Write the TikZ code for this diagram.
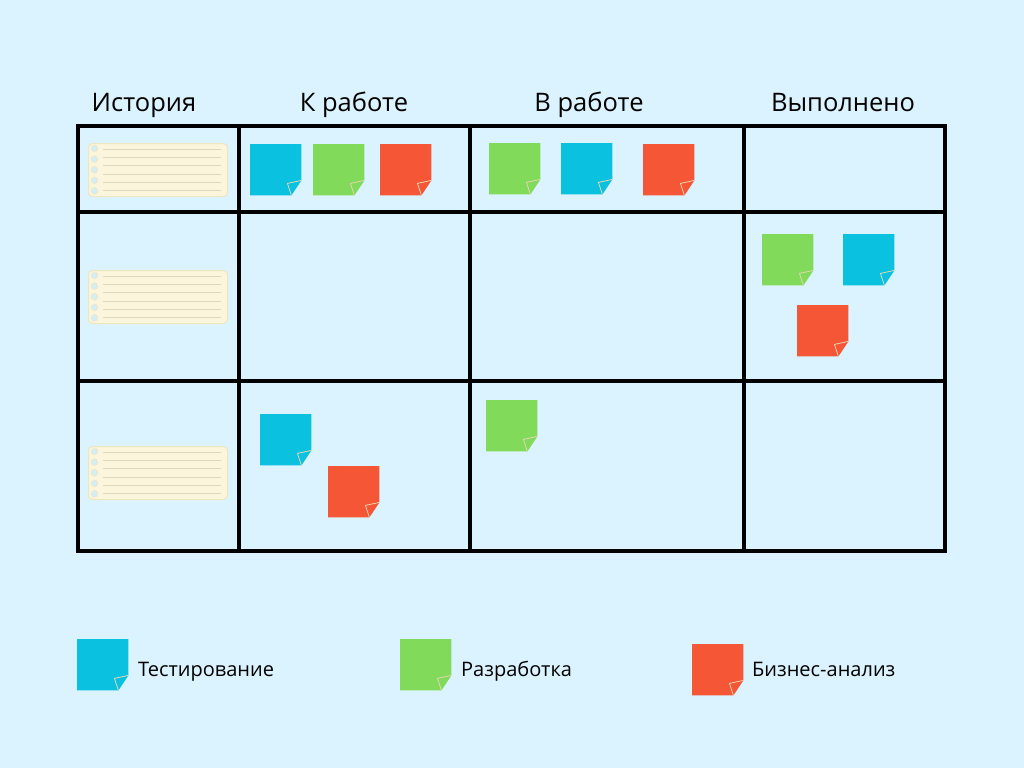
\documentclass[tikz,border=0pt]{standalone}
\usepackage{fontspec}
\setmainfont{Open Sans}
\definecolor{bgc}{HTML}{DBF3FE}
\definecolor{nblue}{HTML}{0BC1E0}
\definecolor{ngreen}{HTML}{82DA5A}
\definecolor{nred}{HTML}{F45636}
\definecolor{fold}{HTML}{E6D6B0}
\definecolor{cardfill}{HTML}{FAF5DB}
\definecolor{cardline}{HTML}{EEE6C0}
\definecolor{ruling}{HTML}{DCD8BE}
\definecolor{hole}{HTML}{D3EEF7}
\tikzset{
  notebox/.style={minimum width=51pt,minimum height=51pt,inner sep=0pt,anchor=north west,draw=none},
  head/.style={font=\fontsize{25.5}{30}\selectfont,text=black,inner sep=0pt,anchor=base},
  legtext/.style={font=\fontsize{20}{24}\selectfont,text=black,inner sep=0pt,anchor=base west},
  gridline/.style={line width=3.3pt,black},
  card/.style={minimum width=139pt,minimum height=53pt,inner sep=0pt,anchor=north west,rounded corners=4pt,fill=cardfill,draw=cardline,line width=1pt},
}
\newcommand\stickynote[4]{%
  \node[notebox] (#4) at (#1,#2) {};
  \fill[#3] (#4.north west) -- (#4.north east) -- ([yshift=15pt]#4.south east) -- ([xshift=-10pt]#4.south east) -- (#4.south west) -- cycle;
  \draw[fold,line width=0.8pt,line join=round] ([yshift=15pt]#4.south east) -- ([xshift=-14pt,yshift=12pt]#4.south east) -- ([xshift=-10pt]#4.south east);
}
\newcommand\storycard[3]{%
  \node[card] (#3) at (#1,#2) {};
  \foreach \k in {0,...,4} {
    \draw[cardline,fill=hole,line width=0.6pt] ([xshift=6.5pt,yshift={-5.5pt-10.6pt*\k}]#3.north west) circle (3.3pt);
  }
  \foreach \k in {0,...,5} {
    \draw[ruling,line width=0.7pt] ([xshift=15pt,yshift={-6pt-8.3pt*\k}]#3.north west) -- ([xshift=-7pt,yshift={-6pt-8.3pt*\k}]#3.north east);
  }
}
\begin{document}
\begin{tikzpicture}[x=1pt,y=-1pt]
\fill[bgc] (0,0) rectangle (1024,768);
\useasboundingbox (0,0) rectangle (1024,768);
% headers
\node[head] (h1) at (144,111.5) {История};
\node[head] (h2) at (354,111.5) {К работе};
\node[head] (h3) at (589,111.5) {В работе};
\node[head] (h4) at (843,111.5) {Выполнено};
% grid
\draw[gridline] (78,126) rectangle (945,551);
\draw[gridline] (78,212) -- (945,212);
\draw[gridline] (78,381) -- (945,381);
\draw[gridline] (239,126) -- (239,551);
\draw[gridline] (470,126) -- (470,551);
\draw[gridline] (744,126) -- (744,551);
% story cards
\storycard{88}{143}{c1}
\storycard{88}{270}{c2}
\storycard{88}{446}{c3}
% row 1
\stickynote{250}{144}{nblue}{a1}
\stickynote{313}{144}{ngreen}{a2}
\stickynote{380}{144}{nred}{a3}
\stickynote{489}{143}{ngreen}{a4}
\stickynote{561}{143}{nblue}{a5}
\stickynote{643}{144}{nred}{a6}
% row 2
\stickynote{762}{234}{ngreen}{b1}
\stickynote{843}{234}{nblue}{b2}
\stickynote{797}{305}{nred}{b3}
% row 3
\stickynote{260}{414}{nblue}{d1}
\stickynote{328}{466}{nred}{d2}
\stickynote{486}{400}{ngreen}{d3}
% legend
\stickynote{77}{639}{nblue}{l1}
\stickynote{400}{639}{ngreen}{l2}
\stickynote{692}{644}{nred}{l3}
\node[legtext] (t1) at (138,676.5) {Тестирование};
\node[legtext] (t2) at (461,676.5) {Разработка};
\node[legtext] (t3) at (752,676.5) {Бизнес-анализ};
\end{tikzpicture}
\end{document}
